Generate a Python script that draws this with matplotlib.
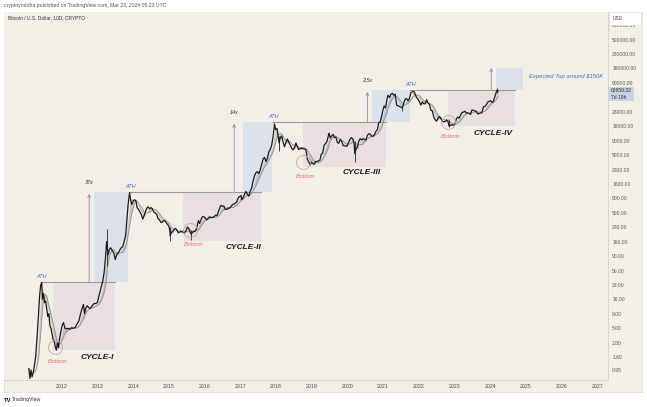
import numpy as np
import pandas as pd
import matplotlib
matplotlib.use("Agg")
import matplotlib.pyplot as plt
from matplotlib.patches import Rectangle
from matplotlib.ticker import NullLocator

plt.rcParams['font.family'] = ['Liberation Sans', 'DejaVu Sans']

# ---------------- data ----------------
dates = [
    2011.08, 2011.11, 2011.14, 2011.17, 2011.21, 2011.27, 2011.31, 2011.35, 2011.38, 2011.41,
    2011.44, 2011.46, 2011.49, 2011.52, 2011.55, 2011.58, 2011.61, 2011.64, 2011.67, 2011.70,
    2011.73, 2011.76, 2011.79, 2011.82, 2011.85, 2011.88, 2011.91, 2011.94, 2011.97, 2012.01,
    2012.05, 2012.09, 2012.13, 2012.18, 2012.23, 2012.28, 2012.33, 2012.38, 2012.43, 2012.48,
    2012.52, 2012.56, 2012.61, 2012.64, 2012.67, 2012.71, 2012.76, 2012.80, 2012.85, 2012.90,
    2012.95, 2013.00, 2013.05, 2013.10, 2013.15, 2013.19, 2013.23, 2013.26, 2013.28, 2013.30,
    2013.33, 2013.37, 2013.42, 2013.46, 2013.50, 2013.54, 2013.58, 2013.63, 2013.67, 2013.71,
    2013.75, 2013.79, 2013.83, 2013.86, 2013.90, 2013.93, 2013.96, 2014.00, 2014.04, 2014.08,
    2014.11, 2014.15, 2014.19, 2014.23, 2014.27, 2014.30, 2014.34, 2014.38, 2014.42, 2014.46,
    2014.50, 2014.54, 2014.58, 2014.62, 2014.66, 2014.70, 2014.74, 2014.78, 2014.82, 2014.86,
    2014.90, 2014.94, 2014.98, 2015.02, 2015.04, 2015.07, 2015.11, 2015.15, 2015.19, 2015.23,
    2015.27, 2015.31, 2015.35, 2015.40, 2015.44, 2015.48, 2015.52, 2015.56, 2015.60, 2015.63,
    2015.67, 2015.71, 2015.75, 2015.79, 2015.83, 2015.86, 2015.90, 2015.94, 2015.98, 2016.02,
    2016.06, 2016.10, 2016.14, 2016.18, 2016.22, 2016.27, 2016.31, 2016.35, 2016.39, 2016.43,
    2016.46, 2016.50, 2016.54, 2016.58, 2016.62, 2016.66, 2016.70, 2016.74, 2016.78, 2016.82,
    2016.86, 2016.90, 2016.94, 2016.98, 2017.02, 2017.04, 2017.08, 2017.12, 2017.16, 2017.20,
    2017.24, 2017.28, 2017.32, 2017.36, 2017.40, 2017.44, 2017.48, 2017.52, 2017.56, 2017.60,
    2017.64, 2017.68, 2017.72, 2017.76, 2017.80, 2017.84, 2017.88, 2017.92, 2017.96, 2017.99,
    2018.03, 2018.06, 2018.09, 2018.12, 2018.16, 2018.20, 2018.24, 2018.28, 2018.32, 2018.36,
    2018.40, 2018.44, 2018.48, 2018.52, 2018.56, 2018.60, 2018.64, 2018.68, 2018.72, 2018.76,
    2018.80, 2018.84, 2018.88, 2018.92, 2018.96, 2018.99, 2019.03, 2019.07, 2019.11, 2019.15,
    2019.19, 2019.23, 2019.27, 2019.31, 2019.35, 2019.39, 2019.43, 2019.47, 2019.49, 2019.52,
    2019.56, 2019.60, 2019.64, 2019.68, 2019.72, 2019.76, 2019.80, 2019.84, 2019.88, 2019.92,
    2019.96, 2019.99, 2020.03, 2020.07, 2020.11, 2020.15, 2020.19, 2020.21, 2020.24, 2020.28,
    2020.32, 2020.36, 2020.40, 2020.44, 2020.48, 2020.52, 2020.56, 2020.60, 2020.64, 2020.68,
    2020.72, 2020.76, 2020.80, 2020.84, 2020.88, 2020.92, 2020.96, 2020.99, 2021.03, 2021.07,
    2021.11, 2021.14, 2021.18, 2021.22, 2021.26, 2021.30, 2021.34, 2021.38, 2021.42, 2021.46,
    2021.50, 2021.54, 2021.58, 2021.62, 2021.66, 2021.70, 2021.74, 2021.78, 2021.82, 2021.86,
    2021.90, 2021.94, 2021.98, 2022.02, 2022.06, 2022.10, 2022.14, 2022.18, 2022.22, 2022.26,
    2022.30, 2022.34, 2022.38, 2022.42, 2022.46, 2022.50, 2022.54, 2022.58, 2022.62, 2022.66,
    2022.70, 2022.74, 2022.78, 2022.82, 2022.85, 2022.89, 2022.93, 2022.97, 2023.01, 2023.05,
    2023.09, 2023.13, 2023.17, 2023.21, 2023.25, 2023.29, 2023.33, 2023.37, 2023.41, 2023.45,
    2023.49, 2023.53, 2023.57, 2023.61, 2023.65, 2023.69, 2023.73, 2023.77, 2023.81, 2023.85,
    2023.89, 2023.93, 2023.97, 2024.01, 2024.05, 2024.09, 2024.13, 2024.17, 2024.20, 2024.22,
]
prices = [
    1.0, 0.68, 0.95, 0.72, 0.9, 1.6, 3.5, 8.5, 18, 28,
    31, 16, 20, 14, 15, 11, 8, 9, 5.5, 5,
    4, 3.2, 3.0, 2.4, 2.1, 2.8, 2.3, 3.3, 4.2, 5.5,
    6.3, 5.0, 4.9, 5.0, 4.8, 5.1, 5.0, 5.2, 6.0, 6.7,
    8.5, 10.5, 13, 9, 11, 12.3, 11.5, 11, 12.2, 13.4,
    13.5, 14, 19, 25, 33, 47, 90, 160, 120, 95,
    115, 125, 110, 100, 78, 95, 100, 115, 125, 130,
    160, 200, 400, 700, 1130, 850, 700, 800, 850, 800,
    620, 580, 520, 470, 390, 440, 520, 600, 640, 590,
    620, 590, 520, 500, 470, 400, 380, 340, 350, 370,
    360, 330, 310, 270, 200, 230, 240, 260, 270, 250,
    225, 235, 240, 230, 225, 245, 285, 270, 230, 215,
    235, 240, 245, 290, 370, 330, 380, 430, 430, 410,
    380, 400, 430, 415, 420, 430, 460, 450, 530, 620,
    680, 650, 660, 580, 575, 600, 610, 640, 700, 710,
    740, 770, 900, 960, 1000, 850, 920, 1050, 1180, 1050,
    980, 1200, 1350, 1800, 2200, 2500, 2600, 2400, 2800, 3500,
    4300, 4600, 3900, 4400, 5700, 6300, 7400, 10500, 17500, 14000,
    14500, 11000, 8200, 10000, 10800, 8500, 7000, 8400, 9600, 8400,
    7500, 6600, 6200, 6700, 8200, 7000, 6300, 6500, 6600, 6500,
    6400, 6300, 4300, 3800, 3400, 3800, 3600, 3500, 3900, 3900,
    4000, 4100, 5200, 5500, 7500, 8000, 8700, 11000, 12000, 10000,
    10800, 11500, 10200, 10300, 8300, 8100, 9300, 8800, 7400, 7300,
    7200, 7200, 8200, 9300, 10100, 9700, 8000, 5300, 6400, 6900,
    8800, 9700, 9200, 9700, 9400, 9200, 11000, 11800, 11600, 10700,
    10700, 11400, 13000, 13700, 18400, 19000, 23500, 29000, 36000, 33000,
    47000, 55000, 50000, 57000, 59000, 55000, 57000, 37000, 36000, 35000,
    34000, 33000, 40000, 47000, 48000, 44000, 48000, 61000, 63000, 64000,
    57000, 50000, 47000, 42000, 37000, 42000, 39000, 39000, 46000, 40000,
    38000, 30000, 29500, 23000, 20500, 19500, 22000, 23500, 21500, 19500,
    19000, 19200, 20500, 19000, 16000, 16500, 17000, 16600, 17000, 21000,
    23000, 22000, 24500, 27500, 28000, 29000, 27000, 27200, 26500, 25500,
    30500, 30200, 29200, 29000, 26000, 26500, 27000, 27500, 34500, 35000,
    37500, 41500, 43000, 44000, 41500, 43000, 52000, 62000, 68000, 64000,
]

# a few long candle wicks
wick_dates = [2013.27, 2015.04, 2015.63, 2018.09, 2020.21, 2021.54, 2022.85, 2024.20]
wick_lows = [60, 165, 170, 6000, 3800, 29000, 15500, 60000]
wick_highs = [266, 290, 250, 11000, 9000, 36000, 21000, 73800]

# cycle structure
cycle_names = ["CYCLE-I", "CYCLE-II", "CYCLE-III", "CYCLE-IV"]
ath_prices = [32, 1155, 18900, 67600]
ath_dates = [2011.42, 2013.92, 2017.90, 2021.76]
bottom_prices = [2.1, 163, 3130, 16000]
bottom_dates = [2011.81, 2015.60, 2018.76, 2022.82]
bottom_circle_prices = [2.38, 253, 3840, 18900]
cycle_box_start = [2011.76, 2015.40, 2018.76, 2022.82]
cycle_box_end = [2013.49, 2017.58, 2021.08, 2024.70]
run_box_start = [2012.90, 2017.08, 2020.69]
run_box_end = [2013.86, 2017.90, 2021.76]
multipliers = ["37x", "14x", "2.5x"]
multiplier_dates = [2012.77, 2016.83, 2020.56]
target_price = 163000
target_box = [2024.17, 2024.92]
target_arrow_date = 2024.03
last_price_label = "63959.32"
countdown_label = "7d 19h"

# (the 50000.00 label sits under the last-price tag in the reference)
price_ticks = [0.95, 1.6, 2.8, 5, 9, 16, 28, 50, 90, 160, 280, 500, 900, 1600, 2800,
               5000, 9000, 16000, 28000, 90000, 160000, 280000, 500000, 900000]
year_ticks = list(range(2012, 2028))
year_labels = [str(y) for y in year_ticks]

# ---------------- styling ----------------
W, H = 647, 407
BG = '#f2efe9'
PINK = '#e8dfe0'
BLUE = '#dde2ea'
BLUE_TXT = '#4a6cb3'
RED_TXT = '#dd6b6b'
GRAY = '#8c8c8c'

fig = plt.figure(figsize=(W / 100, H / 100), dpi=100)
fig.patch.set_facecolor('white')


def fx(px):
    return px / W


def fy(py):
    return 1 - py / H


# chart frame
fig.patches.append(Rectangle((fx(4), fy(392)), fx(638), 380 / H, transform=fig.transFigure,
                             facecolor=BG, edgecolor='#dcd8d0', lw=0.5, zorder=-5))

ax = fig.add_axes([fx(4), fy(380), fx(604), 368 / H])
ax.set_facecolor(BG)
ax.set_yscale('log')
ax.set_xlim(2010.384, 2027.30)
ax.set_ylim(0.637, 1.52e6)
for s in ['top', 'left']:
    ax.spines[s].set_visible(False)
for s in ['bottom', 'right']:
    ax.spines[s].set_color('#d5d1c9')
    ax.spines[s].set_linewidth(0.6)

ax.yaxis.tick_right()
ax.set_yticks(price_ticks)
ax.set_yticklabels([f"{v:.2f}" for v in price_ticks])
ax.yaxis.set_minor_locator(NullLocator())
ax.tick_params(axis='y', length=0, pad=3, labelsize=3.6, labelcolor='#5a5a5a')
ax.set_xticks(year_ticks)
ax.set_xticklabels(year_labels)
ax.tick_params(axis='x', length=0, pad=3, labelsize=3.8, labelcolor='#4a4a4a')

# boxes
for i in range(4):
    ax.add_patch(Rectangle((cycle_box_start[i], bottom_prices[i]),
                           cycle_box_end[i] - cycle_box_start[i],
                           ath_prices[i] - bottom_prices[i],
                           facecolor=PINK, edgecolor='none', zorder=1))
for i in range(3):
    ax.add_patch(Rectangle((run_box_start[i], ath_prices[i]),
                           run_box_end[i] - run_box_start[i],
                           ath_prices[i + 1] - ath_prices[i],
                           facecolor=BLUE, edgecolor='none', zorder=1))
ax.add_patch(Rectangle((target_box[0], ath_prices[3]), target_box[1] - target_box[0],
                       target_price - ath_prices[3], facecolor=BLUE, edgecolor='none', zorder=1))

# ATH horizontal lines
for i in range(4):
    ax.plot([ath_dates[i], cycle_box_end[i]], [ath_prices[i], ath_prices[i]],
            color='#9a9a9a', lw=0.8, zorder=2)

# moving-average ribbon derived from the price series
s = pd.Series(np.log10(prices))
ma_fast = 10 ** s.rolling(3, min_periods=1).mean().values
ma_slow = 10 ** s.rolling(7, min_periods=1).mean().values
ax.fill_between(dates, ma_fast, ma_slow, color='#a8a8a8', alpha=0.55, lw=0, zorder=3)
ax.plot(dates, ma_slow, color='#8a8a8a', lw=0.5, zorder=3)

# price
ax.vlines(wick_dates, wick_lows, wick_highs, color='#222222', lw=0.6, zorder=4)
ax.plot(dates, prices, color='#1a1a1a', lw=0.9, zorder=5)

# arrows for multipliers
tops = ath_prices[1:]
for i in range(3):
    ax.annotate('', xy=(multiplier_dates[i], tops[i] * 0.93), xytext=(multiplier_dates[i], ath_prices[i]),
                arrowprops=dict(arrowstyle='->', color=GRAY, lw=0.6, mutation_scale=5,
                                shrinkA=0, shrinkB=0), zorder=2)
    ax.text(multiplier_dates[i], tops[i] * 1.32, multipliers[i], fontsize=4, style='italic',
            color='#333333', ha='center', va='bottom', zorder=6)
ax.annotate('', xy=(target_arrow_date, target_price), xytext=(target_arrow_date, ath_prices[3]),
            arrowprops=dict(arrowstyle='->', color=GRAY, lw=0.6, mutation_scale=5,
                            shrinkA=0, shrinkB=0), zorder=2)

# ATH labels
for i in range(4):
    ax.text(ath_dates[i] + 0.02, ath_prices[i] * 1.12, "ATH", fontsize=4, style='italic',
            color=BLUE_TXT, ha='center', va='bottom', zorder=6)

# bottoms
ax.plot(bottom_dates, bottom_circle_prices, 'o', ms=10, mfc='none', mec='#c9a3a3', mew=0.6, zorder=6)
for i in range(4):
    ax.text(bottom_dates[i] + 0.08, bottom_circle_prices[i] / 1.8, "Bottom", fontsize=4.4,
            style='italic', color=RED_TXT, ha='center', va='center', zorder=6)

# cycle labels
cycle_label_pos = [(2012.99, 1.59), (2017.08, 128), (2020.41, 2490), (2024.08, 12000)]
for name, (xd, yd) in zip(cycle_names, cycle_label_pos):
    ax.text(xd, yd, name, fontsize=6, fontweight='bold', style='italic', color='#1a1a1a',
            ha='center', va='center', zorder=6)

ax.text(2025.09, 118000, "Expected Top around $150K", fontsize=4.2, style='italic',
        color=BLUE_TXT, ha='left', va='center', zorder=6)

# header / footer / title
fig.text(fx(4), fy(6), "cryptoyoddha published on TradingView.com, Mar 23, 2024 05:23 UTC",
         fontsize=3.7, color='#555555', ha='left', va='center')
fig.text(fx(8), fy(18), "Bitcoin / U.S. Dollar, 10D, CRYPTO", fontsize=3.5, color='#333333',
         ha='left', va='center')
fig.text(fx(4), fy(400), "TV", fontsize=4.2, fontweight='bold', color='#131722', ha='left', va='center')
fig.text(fx(12), fy(400), "TradingView", fontsize=3.8, color='#333333', ha='left', va='center')

# USD box
fig.patches.append(Rectangle((fx(609), fy(25)), fx(32), 13 / H, transform=fig.transFigure,
                             facecolor='white', edgecolor='#dddddd', lw=0.4, zorder=3))
fig.text(fx(613), fy(18.5), "USD", fontsize=3.5, color='#444444', ha='left', va='center', zorder=4)

# last price label
fig.patches.append(Rectangle((fx(608), fy(101)), fx(26), 14 / H, transform=fig.transFigure,
                             facecolor='#c9d2e1', edgecolor='none', zorder=3))
fig.text(fx(611), fy(91), last_price_label, fontsize=3.6, color='#333333', ha='left', va='center', zorder=4)
fig.text(fx(611), fy(97.5), countdown_label, fontsize=3.6, color='#333333', ha='left', va='center', zorder=4)

fig.savefig('out.png', dpi=100, facecolor='white')
